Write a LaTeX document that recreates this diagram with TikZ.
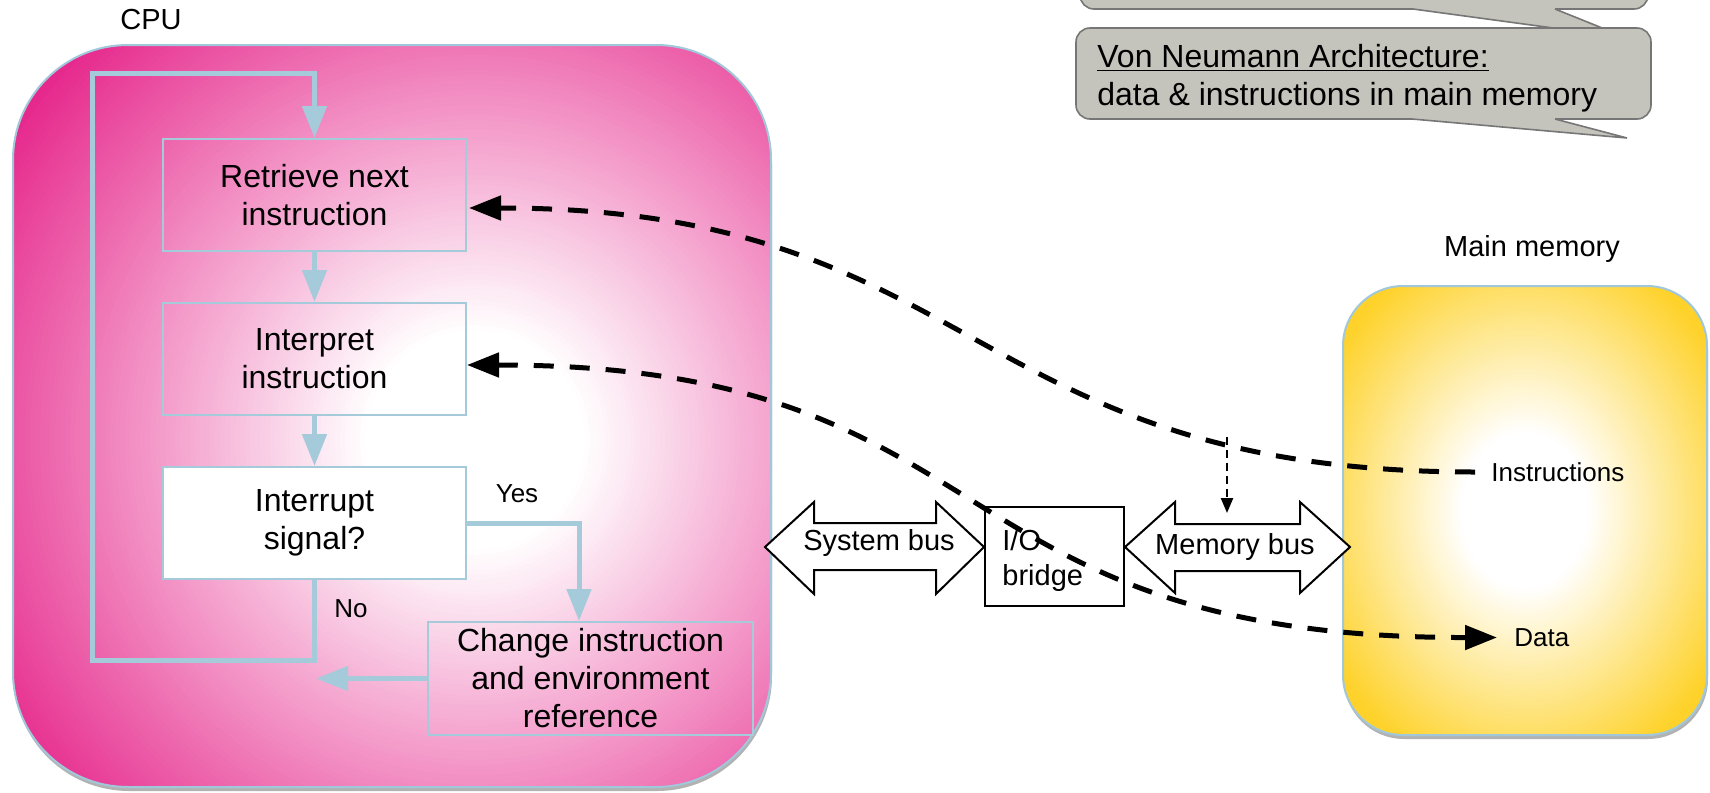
\documentclass[tikz,border=0pt]{standalone}
\usepackage{fontspec}
\setmainfont{Liberation Sans}
\usetikzlibrary{arrows.meta,calc}

\definecolor{flowblue}{RGB}{165,203,218}
\definecolor{boxedge}{RGB}{160,200,218}
\definecolor{cpumag}{RGB}{230,40,140}
\definecolor{memgold}{RGB}{254,210,42}
\definecolor{notefill}{RGB}{196,196,188}
\definecolor{noteedge}{RGB}{118,118,118}

\tikzset{
  flowtip/.tip={Triangle[length=16pt,width=12pt]},
  bustip/.tip={Triangle[length=16pt,width=12pt]},
  smalltip/.tip={Triangle[length=7.5pt,width=6pt]},
}

\begin{document}
\begin{tikzpicture}[x=0.5pt, y=-0.5pt,
  outline/.style={draw=boxedge, line width=1pt, inner sep=0pt},
  flowbox/.style={draw=flowblue, line width=1pt, inner sep=0pt,
    minimum width=151.5pt, minimum height=56pt, align=center,
    font=\fontsize{16}{19}\selectfont},
  flow/.style={draw=flowblue, line width=2.5pt, line join=miter, -{flowtip}},
  lbltext/.style={inner sep=0pt, font=\fontsize{14.5}{17.5}\selectfont},
  smalltext/.style={inner sep=0pt, font=\fontsize{13}{15.5}\selectfont},
  busline/.style={draw=black, fill=white, line width=1pt, line join=miter},
  longdash/.style={line width=2.5pt, dash pattern=on 10pt off 8pt},
  note/.style={draw=noteedge, fill=notefill, line width=0.8pt, rounded corners=7pt, inner sep=0pt},
  noteline/.style={draw=noteedge, line width=0.8pt, line join=miter},
]
\useasboundingbox (0,0) rectangle (1710,793);
\clip (0,0) rectangle (1710,793);

% ---- speech notes at the top right ----
\node[note, minimum width=284pt, minimum height=45.5pt] (notea) at (1364,-36.5) {};
\fill[notefill] (1413,5) -- (1413,9) -- (1627,38) -- (1555,9) -- (1555,5) -- cycle;
\draw[noteline] (1413,9) -- (1627,38) -- (1555,9);

\node[note, minimum width=287.5pt, minimum height=45.5pt] (noteb) at (1363.5,73.5) {};
\fill[notefill] (1412,115) -- (1412,119) -- (1627,138) -- (1555,119) -- (1555,115) -- cycle;
\draw[noteline] (1412,119) -- (1627,138) -- (1555,119);
\node[inner sep=0pt, anchor=west, align=left, font=\fontsize{16}{19}\selectfont] (notetext) at (1097,78)
  {\underline{Von Neumann Architecture:}\\data \& instructions in main memory};

% ---- CPU: soft shadow, white-to-magenta glow, outline ----
\fill[black, opacity=0.3, rounded corners=57.5pt] (14,49) rectangle (772,791);
\begin{scope}
  \clip[rounded corners=57.5pt] (13,45) rectangle (771,787);
  \fill[cpumag] (13,45) rectangle (771,787);
  \foreach \k in {0,...,90}{
    \pgfmathsetmacro\rad{(560-5*\k)/2}
    \pgfmathsetmacro\pct{100-100*\k/90}
    \fill[cpumag!\pct!white] (475,440) circle[radius=\rad pt];
  }
\end{scope}
\node[outline, rounded corners=57.5pt, minimum width=379pt, minimum height=371pt] (cpu) at (392,416) {};
\node[lbltext] (cpulabel) at (151,19.5) {CPU};

% ---- main memory: soft shadow, white-to-gold glow, outline ----
\fill[black, opacity=0.3, rounded corners=30pt] (1344,290) rectangle (1708,739);
\begin{scope}
  \clip[rounded corners=30pt] (1343,286) rectangle (1707,735);
  \fill[memgold] (1343,286) rectangle (1707,735);
  \foreach \k in {0,...,80}{
    \pgfmathsetmacro\sc{1.25-0.9*\k/80}
    \pgfmathsetmacro\rx{91*\sc}
    \pgfmathsetmacro\ry{112.25*\sc}
    \pgfmathsetmacro\pct{100-100*\k/80}
    \fill[memgold!\pct!white] (1525,510.5) ellipse[x radius=\rx pt, y radius=\ry pt];
  }
\end{scope}
\node[outline, rounded corners=30pt, minimum width=182pt, minimum height=224.5pt] (mem) at (1525,510.5) {};
\node[lbltext] (memlabel) at (1532,249) {Main memory};

% ---- instruction cycle ----
\node[flowbox] (retrieve) at (314.5,195) {Retrieve next\\instruction};
\node[flowbox] (interpret) at (314.5,359) {Interpret\\instruction};
\node[flowbox, fill=white] (interrupt) at (314.5,523) {Interrupt\\signal?};
\node[flowbox, minimum width=162.5pt, minimum height=56.5pt] (change) at (590.5,678.5)
  {Change instruction\\and environment\\reference};

\coordinate (yesin) at ($(change.north)+(-11.5,0)$);
\coordinate (loopbl) at (92,660);
\coordinate (looptl) at (92,73);
\coordinate (backtip) at (316,678.5);

\draw[flow] (retrieve.south) -- (interpret.north);
\draw[flow] (interpret.south) -- (interrupt.north);
\draw[flow] (interrupt.east) -| (yesin);
\draw[flow] (interrupt.south) |- (loopbl) -- (looptl) -| (retrieve.north);
\draw[flow] (change.west) -- (backtip);

\node[smalltext] (yes) at (517,494) {Yes};
\node[smalltext] (no) at (351,609) {No};

% ---- buses and bridge ----
\draw[busline] (765,547) -- (814,502) -- (814,523) -- (936,523) -- (936,502) -- (984,547)
  -- (936,594) -- (936,570) -- (814,570) -- (814,594) -- cycle;
\node[lbltext] (sysbus) at (879,543) {System bus};

\node[draw, line width=1pt, fill=white, inner sep=0pt,
  minimum width=69.5pt, minimum height=49.5pt] (bridge) at (1054.5,556.5) {};
\node[lbltext, align=left, anchor=west] (bridgetext) at (1002,560.5) {I/O\\bridge};

\draw[busline] (1125,547) -- (1175,502) -- (1175,524) -- (1300,524) -- (1300,502) -- (1350,547)
  -- (1300,593) -- (1300,571) -- (1175,571) -- (1175,593) -- cycle;
\node[lbltext] (membus) at (1235,547) {Memory bus};

% ---- memory contents ----
\node[smalltext, anchor=west] (instr) at (1491,472) {Instructions};
\node[smalltext, anchor=west] (data) at (1514,637.5) {Data};

\coordinate (rtip) at ($(retrieve.east)+(2,13)$);
\coordinate (itip) at ($(interpret.east)+(0,6)$);
\coordinate (istart) at ($(instr.west)+(-16,0)$);
\coordinate (dend) at ($(data.west)+(-17,0)$);
\coordinate (tapa) at (1227,437);
\coordinate (tapb) at (1227,513);

\draw[longdash, -{bustip}] (istart) .. controls (965,472) and (980,208) .. (rtip);
\draw[longdash, {bustip}-{bustip}] (itip) .. controls (1013,365) and (928,638) .. (dend);
\draw[line width=1.2pt, dash pattern=on 4pt off 2.5pt, -{smalltip}] (tapa) -- (tapb);
\end{tikzpicture}
\end{document}
